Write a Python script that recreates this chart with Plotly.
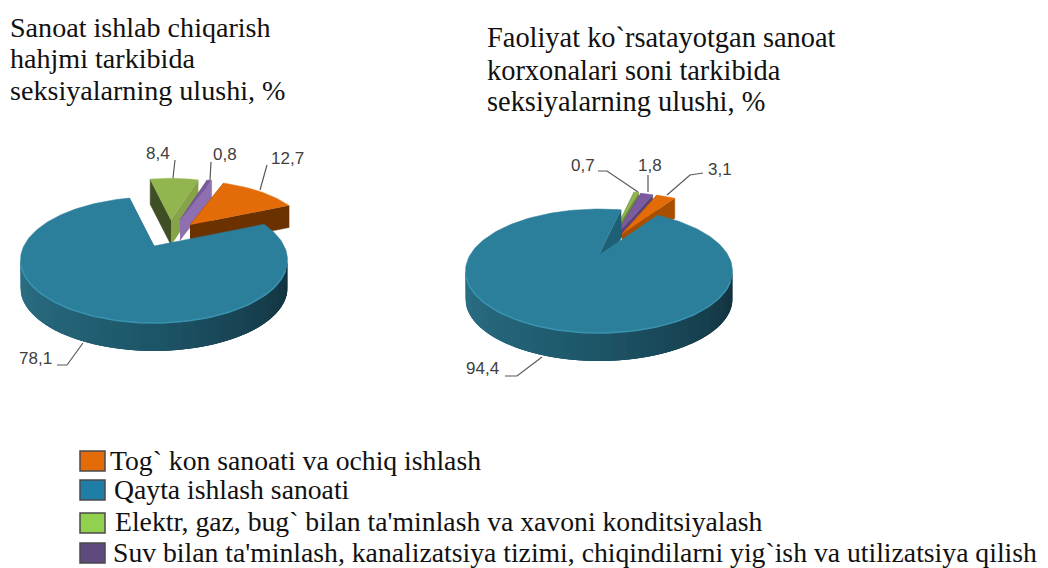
import numpy as np
import plotly.graph_objects as go

# ---- data ----
categories = ["Tog` kon sanoati va ochiq ishlash",
              "Qayta ishlash sanoati",
              "Elektr, gaz, bug` bilan ta'minlash va xavoni konditsiyalash",
              "Suv bilan ta'minlash, kanalizatsiya tizimi, chiqindilarni yig`ish va utilizatsiya qilish"]
output_share = [12.7, 78.1, 8.4, 0.8]
enterprise_share = [3.1, 94.4, 0.7, 1.8]
value_labels_1 = ["12,7", "78,1", "8,4", "0,8"]
value_labels_2 = ["3,1", "94,4", "0,7", "1,8"]
title_1 = ["Sanoat ishlab chiqarish", "hahjmi tarkibida", "seksiyalarning ulushi, %"]
title_2 = ["Faoliyat ko`rsatayotgan sanoat", "korxonalari soni tarkibida", "seksiyalarning ulushi, %"]

# ---- styles ----
top_colors = ["#E36C09", "#2B7F9B", "#93B550", "#7B5A9E"]
legend_colors = ["#E36C09", "#1F7EA6", "#92D050", "#5F4A80"]
SERIF = "Liberation Serif"
SANS = "Liberation Sans"
WARP = 0.195  # perspective: back of the pie is compressed, front stretched

pie_1 = dict(values=output_share, labels=value_labels_1, rot=20, cx=154, cy=246, rx=133.5, ry=63, k=14, depth=28,
             explode={0: (36, -21, .90, 22), 2: (17, -26, .85, 25), 3: (26, -26, .85, 20)},
             walls={0: ("#6B3200", "#6B3200"), 2: ("#3F4F25", "#86A34A"), 3: ("#5D4478", "#8E70B0")},
             leaders=[[(260, 190), (267, 165)], [(83, 343), (67, 365), (57, 365)],
                      [(173, 178), (175, 160)], [(210, 180), (211, 162)]],
             texts=[(287, 158), (35, 358), (158, 153), (225, 154)])
pie_2 = dict(values=enterprise_share, labels=value_labels_2, rot=20.8, cx=599, cy=255, rx=133.5, ry=62, k=16, depth=28,
             explode={0: (23, -21, .90, 20), 2: (13, -18, 1.0, 12), 3: (15, -17, 1.0, 8)},
             walls={0: ("#A84E00", "#A84E00"), 2: ("#6E8A3C", "#6E8A3C"), 3: ("#5D4478", "#5D4478")},
             leaders=[[(667, 195), (690, 175), (703, 173)], [(542, 357), (517, 376), (505, 376)],
                      [(638, 192), (607, 171), (598, 171)], [(648, 192), (648, 175)]],
             texts=[(720, 169), (482, 368), (583, 165), (650, 165)])

fig = go.Figure()


def poly(xs, ys, color, width=0.5):
    fig.add_trace(go.Scatter(x=list(xs), y=list(ys), mode="lines", fill="toself", fillcolor=color,
                             line=dict(color=color, width=width), hoverinfo="skip", showlegend=False))


def mix(a, b, t):
    ca = [int(a[i:i + 2], 16) for i in (1, 3, 5)]
    cb = [int(b[i:i + 2], 16) for i in (1, 3, 5)]
    return "rgb(%d,%d,%d)" % tuple(round(x + (y - x) * t) for x, y in zip(ca, cb))


def draw_pie(p):
    vals = np.array(p["values"], dtype=float)
    ends = p["rot"] + np.cumsum(vals) * 3.6
    starts = ends - vals * 3.6

    def edge(th, ox=0, oy=0, s=1, warp=True):
        r = np.radians(th)
        if warp:
            r = r - WARP * np.sin(r)
        return (p["cx"] + ox + s * p["rx"] * np.sin(r),
                p["cy"] + oy + s * (p["k"] - p["ry"] * np.cos(r)))

    # exploded slices, back to front
    for i in (2, 3, 0):
        ox, oy, s, d = p["explode"][i]
        ax, ay = p["cx"] + ox, p["cy"] + oy
        th = np.linspace(starts[i], ends[i], 30)
        ex, ey = edge(th, ox, oy, s)
        wall_a, wall_b = p["walls"][i]
        poly([ax, ex[0], ex[0], ax], [ay, ey[0], ey[0] + d, ay + d], wall_a)
        poly([ax, ex[-1], ex[-1], ax], [ay, ey[-1], ey[-1] + d, ay + d], wall_b)
        poly(np.r_[ax, ex], np.r_[ay, ey], top_colors[i])

    # main slice: inner wall, front wall gradient, top face, rim
    i = 1
    d = p["depth"]
    ax, ay = p["cx"], p["cy"]
    ex0, ey0 = edge(ends[i])
    poly([ax, ex0, ex0, ax], [ay, ey0, ey0 + d, ay + d], "#1F5F75")
    steps = np.linspace(90, 270, 61)
    for a, b in zip(steps[:-1], steps[1:]):
        xa, ya = edge(np.linspace(a, b + 6, 5).clip(max=270), warp=False)
        t = (a - 90) / 180
        col = mix("#12303B", "#1D5568", t * 2) if t < .5 else mix("#1D5568", "#2C7288", t * 2 - 1)
        poly(np.r_[xa, xa[::-1]], np.r_[ya, ya[::-1] + d], col, width=0)
    th = np.linspace(starts[i], ends[i], 200)
    ex, ey = edge(th)
    poly(np.r_[ax, ex], np.r_[ay, ey], top_colors[i])
    rim = np.linspace(100, 265, 80)
    rx_, ry_ = edge(rim, warp=False)
    fig.add_trace(go.Scatter(x=rx_, y=ry_, mode="lines", line=dict(color="#3A93AF", width=1.5),
                             hoverinfo="skip", showlegend=False))

    # leader lines and value labels
    for pts, txt, lab in zip(p["leaders"], p["texts"], p["labels"]):
        fig.add_trace(go.Scatter(x=[q[0] for q in pts], y=[q[1] for q in pts], mode="lines",
                                 line=dict(color="#595959", width=1.2), hoverinfo="skip", showlegend=False))
        fig.add_annotation(x=txt[0], y=txt[1], text=lab, showarrow=False, xanchor="center", yanchor="middle",
                           font=dict(family=SANS, size=17, color="#404040"))


draw_pie(pie_1)
draw_pie(pie_2)

for lines, x, ys, size in ((title_1, 8, (27, 58, 90), 28.1), (title_2, 485, (37, 70, 101), 28.4)):
    for txt, y in zip(lines, ys):
        fig.add_annotation(x=x, y=y, text=txt, showarrow=False, xanchor="left", yanchor="middle", align="left",
                           font=dict(family=SERIF, size=size, color="#111111"))

# legend
legend_tops = [451, 480, 513, 543]
legend_text_y = [460, 489, 521, 552]
legend_x = [108, 112, 113, 111]
for name, col, top, ty, lx in zip(categories, legend_colors, legend_tops, legend_text_y, legend_x):
    fig.add_shape(type="rect", x0=80, x1=105, y0=top, y1=top + 20, fillcolor=col,
                  line=dict(color="#4A4A4A", width=1.5))
    fig.add_annotation(x=lx, y=ty, text=name, showarrow=False, xanchor="left", yanchor="middle",
                       font=dict(family=SERIF, size=27.7, color="#111111"))

fig.update_xaxes(range=[0, 1048], visible=False, fixedrange=True)
fig.update_yaxes(range=[568, 0], visible=False, fixedrange=True)
fig.update_layout(width=1048, height=568, margin=dict(l=0, r=0, t=0, b=0), paper_bgcolor="white",
                  plot_bgcolor="white", showlegend=False)
fig.write_html("out.html", config=dict(displayModeBar=False),
               post_script="document.body.style.margin='0';document.documentElement.style.overflow='hidden';")
